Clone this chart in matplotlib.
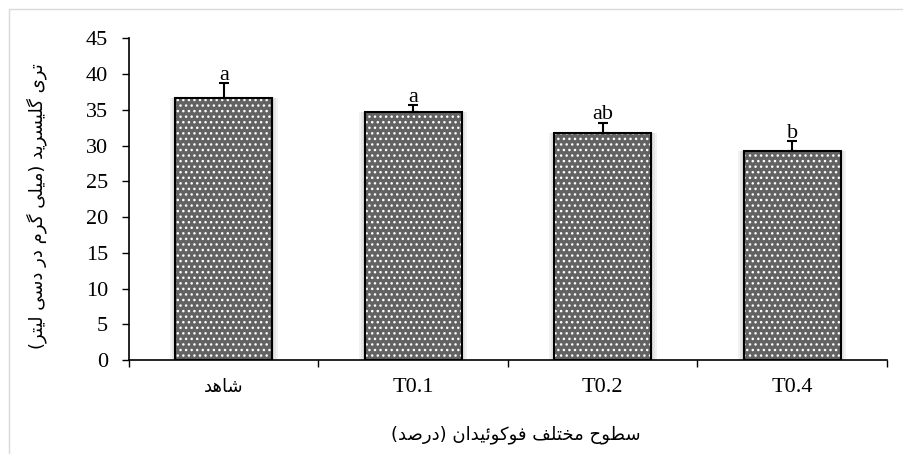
import numpy as np
import matplotlib.pyplot as plt
from matplotlib.patches import Rectangle

groups = ['شاهد', 'T0.1', 'T0.2', 'T0.4']
means = [36.7, 34.7, 31.7, 29.3]
errors = [2.0, 0.9, 1.5, 1.3]
letters = ['a', 'a', 'ab', 'b']

y_title = 'تری گلیسرید (میلی گرم در دسی لیتر)'
x_title = 'سطوح مختلف فوکوئیدان (درصد)'

# isolated, final, initial, medial forms; two-form letters only join to the right
FORMS = {
    'ا': '\uFE8D\uFE8E', 'د': '\uFEA9\uFEAA', 'ر': '\uFEAD\uFEAE', 'و': '\uFEED\uFEEE',
    'ت': '\uFE95\uFE96\uFE97\uFE98', 'ح': '\uFEA1\uFEA2\uFEA3\uFEA4',
    'خ': '\uFEA5\uFEA6\uFEA7\uFEA8', 'س': '\uFEB1\uFEB2\uFEB3\uFEB4',
    'ش': '\uFEB5\uFEB6\uFEB7\uFEB8', 'ص': '\uFEB9\uFEBA\uFEBB\uFEBC',
    'ط': '\uFEC1\uFEC2\uFEC3\uFEC4', 'ف': '\uFED1\uFED2\uFED3\uFED4',
    'ل': '\uFEDD\uFEDE\uFEDF\uFEE0', 'م': '\uFEE1\uFEE2\uFEE3\uFEE4',
    'ن': '\uFEE5\uFEE6\uFEE7\uFEE8', 'ه': '\uFEE9\uFEEA\uFEEB\uFEEC',
    'ئ': '\uFE89\uFE8A\uFE8B\uFE8C', 'ک': '\uFB8E\uFB8F\uFB90\uFB91',
    'گ': '\uFB92\uFB93\uFB94\uFB95', 'ی': '\uFBFC\uFBFD\uFBFE\uFBFF',
}


def fa(text):
    # shape persian letters and lay them out right to left
    if not any(c in FORMS for c in text):
        return text
    out = []
    for i, c in enumerate(text):
        if c not in FORMS:
            out.append(c)
            continue
        prev = text[i - 1] if i > 0 else ''
        nxt = text[i + 1] if i + 1 < len(text) else ''
        join_prev = prev in FORMS and len(FORMS[prev]) == 4
        join_next = len(FORMS[c]) == 4 and nxt in FORMS
        if join_prev and join_next:
            k = 3
        elif join_prev:
            k = 1
        elif join_next:
            k = 2
        else:
            k = 0
        out.append(FORMS[c][k])
    vis = ''.join(reversed(out))
    return vis.translate(str.maketrans('()', ')('))


plt.rcParams['font.family'] = ['Liberation Serif', 'DejaVu Sans']

fig = plt.figure(figsize=(9.04, 4.54), dpi=100)
ax = fig.add_axes([129 / 904, 94 / 454, 758 / 904, 321.7 / 454])

x = np.arange(len(groups))
w = 0.51

# soft shadow along the bar sides
for d in (0.03, 0.02, 0.01):
    ax.bar(x, means, w + 2 * d, color='black', alpha=0.05, linewidth=0, zorder=1)
ax.bar(x, means, w, color='#626262', edgecolor='white', hatch='...',
       linewidth=0, zorder=2)
ax.bar(x, means, w, fill=False, edgecolor='black', linewidth=1.5, zorder=3)
ax.errorbar(x, means, yerr=[np.zeros(len(x)), errors], fmt='none',
            ecolor='black', elinewidth=1.5, capsize=3.3, capthick=1.5, zorder=4)

for xi, m, e, s in zip(x, means, errors, letters):
    ax.annotate(s, (xi, m + e), xytext=(0, -1), textcoords='offset points',
                ha='center', va='bottom', fontsize=16)

ax.set_xlim(-0.5, 3.5)
ax.set_ylim(0, 45)
ax.set_yticks(np.arange(0, 50, 5))
ax.tick_params(axis='y', length=5, width=1, labelsize=16, pad=10)

ax.set_xticks(np.arange(-0.5, 4, 1))
ax.set_xticklabels([])
ax.tick_params(axis='x', which='major', length=5, width=1)
ax.set_xticks(x, minor=True)
ax.set_xticklabels([fa(g) for g in groups], minor=True)
ax.tick_params(axis='x', which='minor', length=0, labelsize=16, pad=13)
ax.get_xticklabels(minor=True)[0].set_family('DejaVu Sans')
ax.get_xticklabels(minor=True)[0].set_fontsize(13)

for side in ('top', 'right'):
    ax.spines[side].set_visible(False)
for side in ('left', 'bottom'):
    ax.spines[side].set_linewidth(1.2)

ax.set_ylabel(fa(y_title), family='DejaVu Sans', fontsize=13)
ax.yaxis.set_label_coords(-0.108, 0.479)
fig.text(516 / 904, 1 - 435 / 454, fa(x_title), family='DejaVu Sans',
         fontsize=13, ha='center', va='center')

# chart frame
fig.patches.append(Rectangle((9 / 904, -0.5), 2, 1.5 - 8.5 / 454,
                             transform=fig.transFigure, fill=False,
                             edgecolor='#d9d9d9', linewidth=1))

fig.savefig('out.png', dpi=100)
